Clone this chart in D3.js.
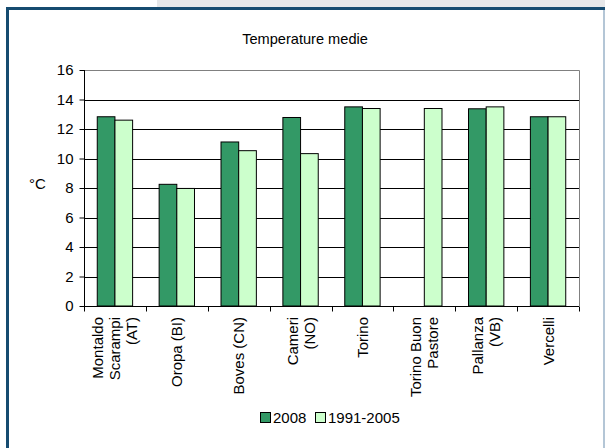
<!DOCTYPE html>
<html><head><meta charset="utf-8">
<script src="https://cdn.jsdelivr.net/npm/d3@7/dist/d3.min.js"></script>
<style>body{margin:0;background:#fff}svg{display:block}text{font-family:"Liberation Sans",Arial,sans-serif}</style>
</head><body><svg id="c" width="605" height="448"></svg>
<script>
const categories = [["Montaldo","Scarampi","(AT)"],["Oropa (BI)"],["Boves (CN)"],["Cameri","(NO)"],["Torino"],["Torino Buon","Pastore"],["Pallanza","(VB)"],["Vercelli"]];
const series2008 = [12.83, 8.25, 11.12, 12.78, 13.50, null, 13.37, 12.83];
const series1991 = [12.60, 7.97, 10.53, 10.33, 13.39, 13.39, 13.50, 12.83];
const seriesNames = ["2008","1991-2005"];
const yTicks = [0,2,4,6,8,10,12,14,16];

const FONT = "Liberation Sans, Arial, sans-serif";
const svg = d3.select("#c");
// frame
svg.append("rect").attr("x",157).attr("y",0).attr("width",448).attr("height",7).attr("fill","#e6e7e9");
svg.append("rect").attr("x",6).attr("y",7).attr("width",599).attr("height",3).attr("fill","#164b70");
svg.append("rect").attr("x",6).attr("y",7).attr("width",3).attr("height",441).attr("fill","#164b70");
svg.append("rect").attr("x",603).attr("y",10).attr("width",2).attr("height",438).attr("fill","#b4c6d6");

const L=84, R=579, T=70, B=306;
const x = d3.scaleBand().domain(d3.range(categories.length)).range([L,R]);
const y = d3.scaleLinear().domain([0,16]).range([B,T]);
const bw = x.bandwidth()/3.5;
const off0 = (x.bandwidth()-2*bw)/2;

svg.append("text").attr("x",305).attr("y",44).attr("text-anchor","middle").attr("font-size",14.6).attr("fill","#000").text("Temperature medie");

// gridlines
svg.append("g").selectAll("line").data(yTicks.filter(d=>d>0&&d<16)).join("line")
  .attr("x1",L).attr("x2",R).attr("y1",d=>Math.round(y(d))+0.5).attr("y2",d=>Math.round(y(d))+0.5).attr("stroke","#000");
// plot border top/right
svg.append("path").attr("d",`M${L},${T+0.5}H${R+0.5}V${B}`).attr("fill","none").attr("stroke","#808080");

// bars
const vals=[series2008,series1991], cols=["#339966","#ccffcc"];
vals.forEach((s,si)=>{
  svg.append("g").selectAll("rect").data(s.map((v,i)=>({v,i})).filter(d=>d.v!=null)).join("rect")
    .attr("x",d=>x(d.i)+off0+si*bw).attr("width",bw)
    .attr("y",d=>y(d.v)).attr("height",d=>B-y(d.v))
    .attr("fill",cols[si]).attr("stroke","#000").attr("stroke-width",1);
});

// y axis
const ya = svg.append("g").attr("transform",`translate(${L+0.5},0)`).call(d3.axisLeft(y).tickValues(yTicks).tickSize(5).tickPadding(6).tickFormat(d3.format("d")));
ya.select(".domain").attr("d",`M0,${T}V${B}`).attr("stroke","#000");
ya.selectAll("text").attr("font-size",15).attr("fill","#000").style("font-family",FONT);
ya.selectAll(".tick line").attr("stroke","#000");

// x axis
const xa = svg.append("g").attr("transform",`translate(0,${B+0.5})`);
xa.append("line").attr("x1",L).attr("x2",R).attr("stroke","#000");
const bounds = d3.range(categories.length+1).map(i=> i<categories.length ? x(i) : R);
xa.selectAll("line.t").data(bounds).join("line").attr("class","t")
  .attr("x1",d=>Math.round(d)+0.5).attr("x2",d=>Math.round(d)+0.5).attr("y1",0).attr("y2",5).attr("stroke","#000");

// category labels
categories.forEach((lines,i)=>{
  const cx = x(i)+x.bandwidth()/2;
  const n=lines.length, lh=17;
  lines.forEach((ln,j)=>{
    const off=(j-(n-1)/2)*lh;
    svg.append("text").attr("transform",`translate(${cx+off+5.5},${B+11}) rotate(-90)`)
      .attr("text-anchor","end").attr("font-size",15).attr("fill","#000").text(ln);
  });
});

// y label
svg.append("text").attr("x",29).attr("y",189).attr("font-size",15).attr("fill","#000").text("°C");

// legend
const lg = svg.append("g").attr("transform","translate(260,412)");
const lgx=[0,55];
seriesNames.forEach((n,i)=>{
  const ox = lgx[i];
  lg.append("rect").attr("x",ox+0.5).attr("y",0.5).attr("width",10).attr("height",10).attr("fill",cols[i]).attr("stroke","#000");
  lg.append("text").attr("x",ox+13).attr("y",11).attr("font-size",15).attr("fill","#000").text(n);
});
</script></body></html>
